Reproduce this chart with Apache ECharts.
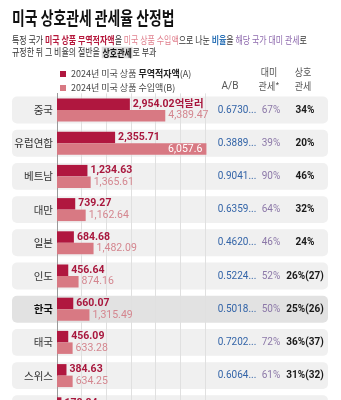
<!DOCTYPE html>
<html><head><meta charset="utf-8">
<script src="https://cdn.jsdelivr.net/npm/echarts@6/dist/echarts.min.js"></script>
<style>html,body{margin:0;padding:0;background:#fff;overflow:hidden}#c{width:341px;height:430px}</style>
</head><body><div id="c"></div>
<script>
// ---- data ----
var categories = ['중국','유럽연합','베트남','대만','일본','인도','한국','태국','스위스','인도네시아'];
var deficitA = [2954.02, 2355.71, 1234.63, 739.27, 684.68, 456.64, 660.07, 456.09, 384.63, 178.84];
var importB  = [4389.47, 6057.6, 1365.61, 1162.64, 1482.09, 874.16, 1315.49, 633.28, 634.25, 280.81];
var ratioAB  = ['0.6730...','0.3889...','0.9041...','0.6359...','0.4620...','0.5224...','0.5018...','0.7202...','0.6064...','0.6369...'];
var tariffToUS = ['67%','39%','90%','64%','46%','52%','50%','72%','61%','64%'];
var reciprocal = ['34%','20%','46%','32%','24%','26%(27)','25%(26)','36%(37)','31%(32)','32%'];
var highlight = '한국';
var nameA = '2024년 미국 상품 무역적자액(A)';
var nameB = '2024년 미국 상품 수입액(B)';

var FONT = 'Roboto, "Noto Sans CJK KR", sans-serif';
var KFONT = '"Noto Sans CJK KR", sans-serif';
var cA = '#B0173F', cB = '#D87983';

function fmt(v){ return v.toLocaleString('en-US',{maximumFractionDigits:2}); }

var chart = echarts.init(document.getElementById('c'), null, {renderer:'canvas'});
var idxData = categories.map(function(c,i){ return [0, i]; });

chart.setOption({
  animation:false,
  backgroundColor:'#fff',
  textStyle:{fontFamily:FONT},
  grid:{left:57, top:93.4, width:148, height:332, containLabel:false},
  legend:{
    left:55, top:63, orient:'vertical', icon:'rect', itemWidth:6, itemHeight:6,
    itemGap:2, itemTextGap:3, selectedMode:false,
    data:[nameA, nameB],
    formatter:function(n){
      if(n===nameA) return '{n|2024년 미국 상품 }{b|무역적자액}{n|(A)}';
      return '{n|'+n+'}';
    },
    textStyle:{fontFamily:KFONT, fontSize:9, lineHeight:12, color:'#444',
      rich:{n:{fontFamily:KFONT, fontSize:9, color:'#444'}, b:{fontFamily:KFONT, fontSize:9, fontWeight:'bold', color:'#222'}}}
  },
  xAxis:{type:'value', min:0, max:6000, interval:1000,
    axisLabel:{show:false}, axisLine:{show:false}, axisTick:{show:false},
    splitLine:{show:true, lineStyle:{color:'#E0E0E0', width:1}}},
  yAxis:{type:'category', data:categories, inverse:true,
    axisLine:{show:true, lineStyle:{color:'#9A9A9A', width:1}},
    axisTick:{show:false},
    axisLabel:{margin:4, fontFamily:KFONT, fontSize:10.5, color:'#333',
      formatter:function(v){ return v===highlight ? '{h|'+v+'}' : v; },
      rich:{h:{fontFamily:KFONT, fontSize:10.5, fontWeight:'bold', color:'#111'}}}},
  graphic:[
    {type:'text', x:12, y:18, scaleX:0.77, style:{text:'미국 상호관세 관세율 산정법', font:'bold 18px "Noto Sans CJK KR"', fill:'#111', verticalAlign:'middle'}},
    {type:'text', x:12, y:40, scaleX:0.76, style:{
      text:'{n|특정 국가 }{a|미국 상품 무역적자액}{n|을 }{p|미국 상품 수입액}{n|으로 나눈 }{u|비율}{n|을 }{v|해당 국가 대미 관세}{n|로}',
      verticalAlign:'middle', font:'10.5px "Noto Sans CJK KR"',
      rich:{n:{fontSize:10.5, fontFamily:KFONT, fill:'#333'},
            a:{fontSize:10.5, fontFamily:KFONT, fontWeight:'bold', fill:'#B5173B'},
            p:{fontSize:10.5, fontFamily:KFONT, fill:'#E0808E'},
            u:{fontSize:10.5, fontFamily:KFONT, fontWeight:'bold', fill:'#2F74B8'},
            v:{fontSize:10.5, fontFamily:KFONT, fill:'#8E6AAE'}}}},
    {type:'text', x:12, y:52.5, scaleX:0.76, style:{
      text:'{n|규정한 뒤 그 비율의 절반을 }{h|상호관세}{n|로 부과}',
      verticalAlign:'middle', font:'10.5px "Noto Sans CJK KR"',
      rich:{n:{fontSize:10.5, fontFamily:KFONT, fill:'#333'},
            h:{fontSize:10.5, fontFamily:KFONT, fontWeight:'bold', fill:'#111', backgroundColor:'#DDDDDD', padding:[1,1,0,1]}}}},
    {type:'text', x:230, y:86, style:{text:'A/B', font:'10px '+FONT, fill:'#555', align:'center', verticalAlign:'middle'}},
    {type:'text', x:269, y:72, scaleX:0.9, style:{text:'대미', font:'10px '+KFONT, fill:'#555', align:'center', verticalAlign:'middle'}},
    {type:'text', x:269, y:86, scaleX:0.9, style:{text:'관세*', font:'10px '+KFONT, fill:'#555', align:'center', verticalAlign:'middle'}},
    {type:'text', x:303, y:72, scaleX:0.9, style:{text:'상호', font:'10px '+KFONT, fill:'#555', align:'center', verticalAlign:'middle'}},
    {type:'text', x:303, y:86, scaleX:0.9, style:{text:'관세', font:'10px '+KFONT, fill:'#555', align:'center', verticalAlign:'middle'}}
  ],
  series:[
    {type:'custom', z:-1, silent:true, clip:false, encode:{x:0, y:1}, data:idxData,
      renderItem:function(params, api){
        var i = api.value(1);
        var c = api.coord([0, i]);
        var band = api.size([0, 1])[1];
        var h = band * 0.81;
        return {type:'rect', shape:{x:12, y:c[1]-h/2, width:316, height:h, r:5},
          style:{fill: categories[i]===highlight ? '#E2E2E2' : '#F0F0F0'}};
      }},
    {name:nameA, type:'bar', data:deficitA, barWidth:11.5, barGap:'0%', clip:false,
      itemStyle:{color:cA},
      label:{show:true, position:'right', distance:3, fontFamily:FONT, fontSize:10.5, fontWeight:'bold', color:'#A8173D',
        formatter:function(p){ return fmt(p.value) + (p.dataIndex===0 ? '억달러' : ''); }}},
    {name:nameB, type:'bar', data:importB.map(function(v){
        return v > 5000 ? {value:v, label:{position:'insideRight', distance:4, color:'#fff'}} : v; }),
      barWidth:11.5, clip:false,
      itemStyle:{color:cB},
      label:{show:true, position:'right', distance:3, fontFamily:FONT, fontSize:10.5, color:'#D4868F',
        formatter:function(p){ return fmt(p.value); }}},
    {type:'custom', z:5, silent:true, clip:false, encode:{x:0, y:1}, data:idxData,
      renderItem:function(params, api){
        var i = api.value(1);
        var c = api.coord([0, i]);
        var y = c[1];
        return {type:'group', children:[
          {type:'text', x:237, y:y, style:{text:ratioAB[i], fill:'#3465A8', fontSize:10, fontFamily:FONT, align:'center', verticalAlign:'middle'}},
          {type:'text', x:271, y:y, style:{text:tariffToUS[i], fill:'#8C78A8', fontSize:10, fontFamily:FONT, align:'center', verticalAlign:'middle'}},
          {type:'text', x:305, y:y, style:{text:reciprocal[i], fill:'#1A1A1A', fontSize:10, fontWeight:'bold', fontFamily:FONT, align:'center', verticalAlign:'middle'}}
        ]};
      }}
  ]
});
</script></body></html>
